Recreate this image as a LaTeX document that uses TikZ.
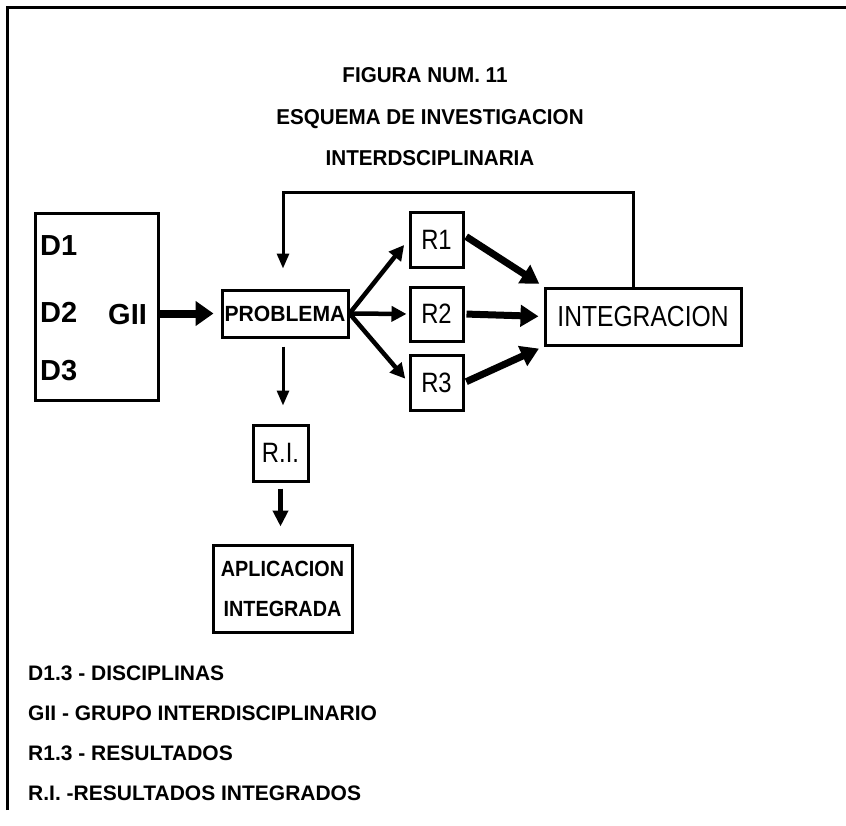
\documentclass[tikz,border=0pt]{standalone}
\usepackage{fontspec}
\setmainfont{Liberation Sans}
\newfontfamily\narrowA[FakeStretch=0.85]{Liberation Sans}
\newfontfamily\narrowB[FakeStretch=0.9]{Liberation Sans}
\newfontfamily\narrowC[FakeStretch=0.96]{Liberation Sans}
\usetikzlibrary{arrows.meta,calc}

\newcommand{\fs}[1]{\fontsize{#1}{#1}\selectfont}

\tikzset{
  frame/.style={line width=3pt},
  box/.style={draw, line width=3pt, inner sep=1pt, rectangle},
  bigarrow/.style={line width=8pt, -{Triangle[length=18pt,width=24pt]}},
  resarrow/.style={line width=7pt, -{Triangle[length=18pt,width=21pt]}},
  fanarrow/.style={line width=4.5pt, -{Triangle[length=15pt,width=15pt]}},
  thinarrow/.style={line width=3pt, -{Triangle[length=15pt,width=12pt]}},
  midarrow/.style={line width=5pt, -{Triangle[length=16pt,width=15pt]}},
  title/.style={anchor=base, font=\narrowC\fs{21.5}\bfseries, inner sep=0pt},
  legend/.style={anchor=base west, font=\fs{21}\bfseries, inner sep=0pt},
  dlabel/.style={anchor=base west, font=\fs{29}\bfseries, inner sep=0pt},
  rlabel/.style={font=\narrowA\fs{28}},
}

\begin{document}
\begin{tikzpicture}[x=1pt, y=-1pt]
\useasboundingbox (0,0) rectangle (846,825);

% outer frame (top and left edges)
\draw[frame] (7,810) -- (7,7) -- (846,7);

% heading
\node[title] (t1) at (425,82)  {FIGURA NUM. 11};
\node[title] (t2) at (430,124) {ESQUEMA DE INVESTIGACION};
\node[title] (t3) at (430,165) {INTERDSCIPLINARIA};

% disciplines box
\node[box, minimum width=123pt, minimum height=187pt] (D) at (96.5,306.5) {};
\node[dlabel] (d1) at (40,255) {D1};
\node[dlabel] (d2) at (40,322) {D2};
\node[dlabel] (d3) at (40,380) {D3};
\node[dlabel] (gii) at (108,324) {GII};

% problem
\node[box, minimum width=126pt, minimum height=47pt, font=\narrowC\fs{22}\bfseries] (P) at (285,313.5) {PROBLEMA};

% results
\node[box, rlabel, minimum width=53pt, minimum height=55pt] (R1) at (436.5,239.5) {R1};
\node[box, rlabel, minimum width=53pt, minimum height=54pt] (R2) at (436.5,314) {R2};
\node[box, rlabel, minimum width=53pt, minimum height=55pt] (R3) at (436.5,382.5) {R3};

% integration
\node[box, minimum width=196pt, minimum height=57pt, font=\narrowA\fs{29}] (I) at (643,316.5) {INTEGRACION};

% integrated results and application
\node[box, rlabel, minimum width=55pt, minimum height=56pt] (RI) at (280.5,453) {R.I.};
\node[box, minimum width=139pt, minimum height=87pt, align=center, font=\narrowB\fontsize{22}{40}\selectfont\bfseries] (A) at (282.5,588.5) {APLICACION\\INTEGRADA};

% connectors
\draw[bigarrow, shorten >=7pt] (D.east |- P.west) -- (P.west);

\draw[fanarrow, shorten >=7pt] (P.east) -- (R1.west);
\draw[fanarrow, shorten >=2pt] (P.east) -- (R2.west);
\draw[fanarrow, shorten >=5pt] (P.east) -- (R3.west);

\draw[resarrow, shorten <=2pt, shorten >=5pt] (R1.east) ++(0,-4) -- (I.north west);
\draw[resarrow, shorten <=2pt, shorten >=5pt] (R2.east) -- (I.west);
\draw[resarrow, shorten <=2pt, shorten >=5pt] (R3.east) -- (I.south west);

\coordinate (fb) at ($(I.north west)!0.45!(I.north east)$);
\draw[thinarrow, shorten >=20pt] (fb) |- (283,192) -- (P.north -| 283,0);

\draw[thinarrow, shorten <=8pt, shorten >=18pt] (P.south -| 283,0) -- (RI.north -| 283,0);
\draw[midarrow, shorten <=6pt, shorten >=17pt] (RI.south) -- (A.north -| RI.south);

% legend
\node[legend] (l1) at (28,680) {D1.3 - DISCIPLINAS};
\node[legend] (l2) at (28,720) {GII - GRUPO INTERDISCIPLINARIO};
\node[legend] (l3) at (28,760) {R1.3 - RESULTADOS};
\node[legend] (l4) at (28,800) {R.I. -RESULTADOS INTEGRADOS};
\end{tikzpicture}
\end{document}
